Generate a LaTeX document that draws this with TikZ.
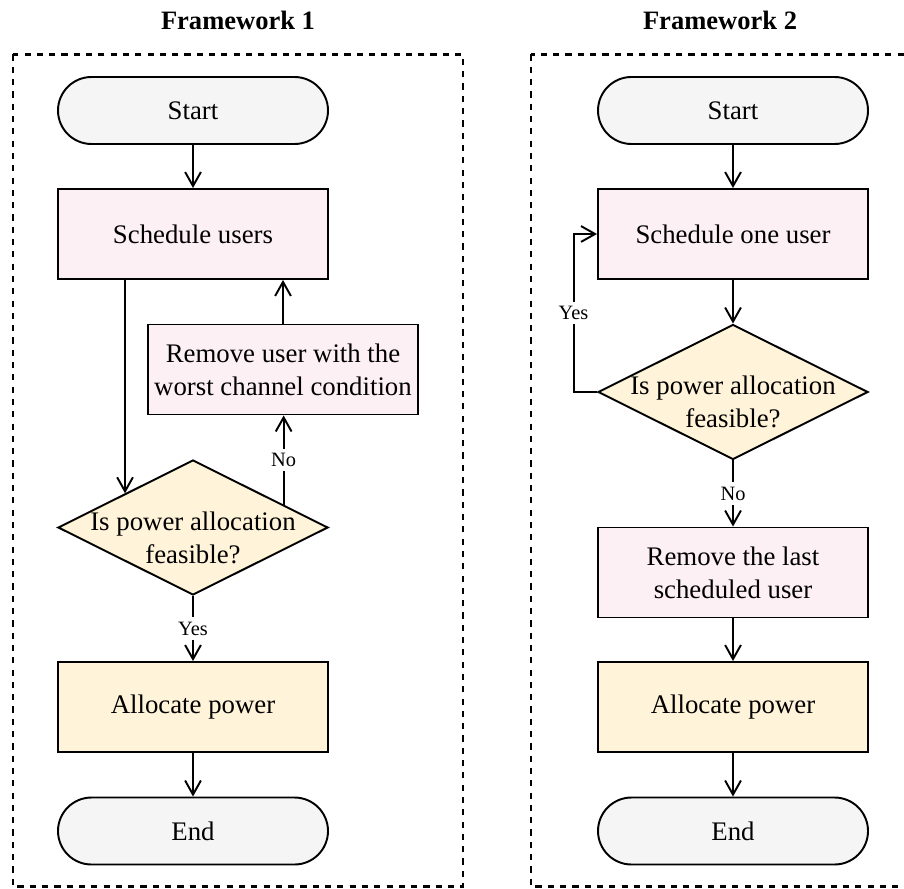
\documentclass[tikz,border=0pt]{standalone}
\usepackage{fontspec}
\setmainfont{Liberation Serif}
\usetikzlibrary{shapes.geometric,arrows.meta,calc}
\definecolor{termgray}{RGB}{245,245,245}
\definecolor{steppink}{RGB}{253,240,245}
\definecolor{stepyellow}{RGB}{255,244,217}

\begin{document}
\begin{tikzpicture}[
    font=\fontsize{15.25}{18.8}\selectfont,
    terminal/.style={rectangle,draw,line width=1.1pt,fill=termgray,rounded corners=0.67cm,minimum width=5.4cm,minimum height=1.34cm},
    process/.style={rectangle,draw,line width=1.1pt,fill=steppink,minimum width=5.4cm,minimum height=1.8cm,inner xsep=2pt,align=center},
    action/.style={process,fill=stepyellow},
    decision/.style={diamond,draw,line width=1.1pt,fill=stepyellow,minimum width=5.4cm,minimum height=2.7cm,inner sep=0pt},
    link/.style={line width=1.1pt,-{Straight Barb[length=8pt,width=9pt]}},
    answer/.style={fill=white,inner sep=2.5pt,font=\fontsize{11.6}{14}\selectfont},
    panel/.style={line width=1.3pt,dash pattern=on 3.5pt off 3.5pt},
    heading/.style={font=\fontsize{15.1}{18}\selectfont\bfseries}
]
    \useasboundingbox (0,0) rectangle (18.08,-17.76);

    % Framework 1 - schedule all, then drop users until feasible
    \begin{scope}
        \node[heading] (title1) at (4.76,-0.40) {Framework 1};
        \draw[panel] (0.26,-1.09) rectangle (9.26,-17.73);
        \node[terminal] (start1) at (3.86,-2.21) {Start};
        \node[process] (sched1) at (3.86,-4.68) {Schedule users};
        \node[process] (rem1) at (5.66,-7.39) {Remove user with the\\worst channel condition};
        \node[decision] (dec1) at (3.86,-10.55) {};
        \node[align=center] (dec1text) at ([yshift=-0.2cm]dec1.center) {Is power allocation\\feasible?};
        \node[action] (alloc1) at (3.86,-14.14) {Allocate power};
        \node[terminal] (end1) at (3.86,-16.62) {End};
        \coordinate (nofoot1) at ($(dec1.north)!2/3!(dec1.east)$);
        \draw[link] (start1) -- (sched1);
        \draw[link] (sched1.south -| dec1.north west) -- (dec1.north west);
        \draw[link] (nofoot1) -- node[answer] {No} (nofoot1 |- rem1.south);
        \draw[link] (rem1.north) -- (rem1.north |- sched1.south);
        \draw[link] (dec1) -- node[answer] {Yes} (alloc1);
        \draw[link] (alloc1) -- (end1);
    \end{scope}

    % Framework 2 - add users one by one
    \begin{scope}[xshift=10.8cm]
        \node[heading] (title2) at (3.60,-0.40) {Framework 2};
        \draw[panel] (-0.18,-1.09) rectangle (7.45,-17.73);
        \node[terminal] (start2) at (3.86,-2.21) {Start};
        \node[process] (sched2) at (3.86,-4.68) {Schedule one user};
        \node[decision] (dec2) at (3.86,-7.84) {};
        \node[align=center] (dec2text) at ([yshift=-0.2cm]dec2.center) {Is power allocation\\feasible?};
        \node[process] (rem2) at (3.86,-11.45) {Remove the last\\scheduled user};
        \node[action] (alloc2) at (3.86,-14.14) {Allocate power};
        \node[terminal] (end2) at (3.86,-16.62) {End};
        \draw[link] (start2) -- (sched2);
        \draw[link] (sched2) -- (dec2);
        \draw[link] (dec2.west) -- ++(-0.47,0) |- node[answer,pos=0.25] {Yes} (sched2.west);
        \draw[link] (dec2) -- node[answer] {No} (rem2);
        \draw[link] (rem2) -- (alloc2);
        \draw[link] (alloc2) -- (end2);
    \end{scope}
\end{tikzpicture}
\end{document}
